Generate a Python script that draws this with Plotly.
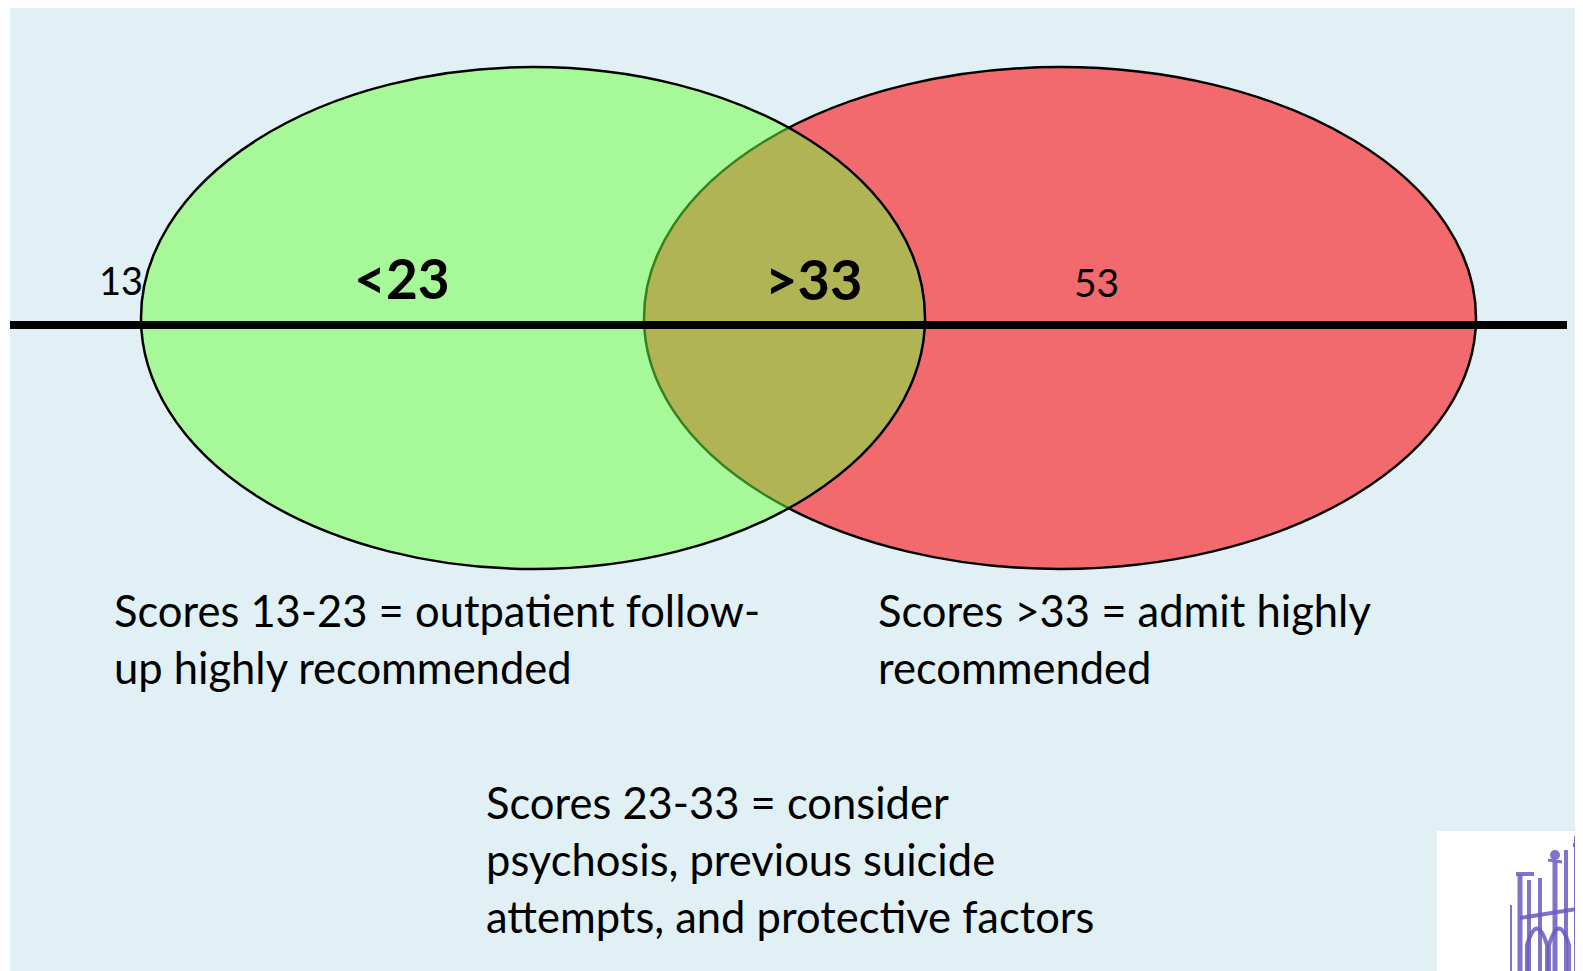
import plotly.graph_objects as go

# ---- data ----
endpoint_labels = ["13", "53"]
region_labels = ["<23", ">33"]
left_desc = ["Scores 13-23 = outpatient follow-", "up highly recommended"]
right_desc = ["Scores >33 = admit highly", "recommended"]
mid_desc = ["Scores 23-33 = consider", "psychosis, previous suicide", "attempts, and protective factors"]

# ---- layout / geometry (screen pixel space) ----
W, H = 1583, 971
OFF = 8  # page body margin
BG = "#E1F0F5"
FONT = "Lato"

green = dict(cx=533, cy=318, a=392, b=251)
red = dict(cx=1060, cy=318, a=416, b=251)
axis_y = 325

fig = go.Figure()
fig.add_trace(go.Scatter(x=[OFF, W], y=[OFF, H], mode="markers", marker=dict(opacity=0),
                         hoverinfo="skip", showlegend=False))

shapes = []
shapes.append(dict(type="rect", x0=10, x1=W, y0=4, y1=H, fillcolor=BG, line=dict(width=0), layer="below"))
shapes.append(dict(type="circle", x0=red["cx"] - red["a"], x1=red["cx"] + red["a"],
                   y0=red["cy"] - red["b"], y1=red["cy"] + red["b"],
                   fillcolor="#F2696E", line=dict(color="black", width=2.5)))
shapes.append(dict(type="circle", x0=green["cx"] - green["a"], x1=green["cx"] + green["a"],
                   y0=green["cy"] - green["b"], y1=green["cy"] + green["b"],
                   fillcolor="rgba(110,255,60,0.5)", line=dict(color="black", width=2.5)))
shapes.append(dict(type="line", x0=10, x1=1567, y0=axis_y, y1=axis_y, line=dict(color="black", width=8)))

# logo block (decorative)
shapes.append(dict(type="rect", x0=1437, x1=W, y0=831, y1=H, fillcolor="white", line=dict(width=0)))
P = "rgba(104,92,190,0.85)"
for (x0, y0, x1, y1, w) in [
    (1520, 875, 1520, 971, 5), (1529, 880, 1529, 971, 4), (1540, 878, 1540, 971, 4),
    (1555, 862, 1555, 971, 5), (1566, 850, 1566, 971, 4), (1578, 836, 1578, 971, 8),
    (1516, 874, 1534, 874, 4), (1548, 860, 1562, 862, 3), (1520, 918, 1583, 908, 4),
    (1511, 905, 1511, 971, 2), (1573, 845, 1583, 845, 4)]:
    shapes.append(dict(type="line", x0=x0, y0=y0, x1=x1, y1=y1, line=dict(color=P, width=w)))
for (x0, x1) in [(1527, 1547), (1549, 1569)]:
    shapes.append(dict(type="path", path=f"M{x0},971 L{x0},945 Q{(x0+x1)/2},912 {x1},945 L{x1},971",
                       line=dict(color=P, width=4)))
shapes.append(dict(type="circle", x0=1550, x1=1560, y0=850, y1=860, fillcolor=P, line=dict(width=0)))

ann = []
def t(x, y, s, size, bold=False):
    ann.append(dict(x=x, y=y, text=(f"<b>{s}</b>" if bold else s), showarrow=False,
                    xanchor="left", yanchor="middle",
                    font=dict(family=FONT, size=size, color="black")))

t(97, 280, endpoint_labels[0], 38)
t(1072, 282, endpoint_labels[1], 39)
t(352, 278, region_labels[0], 55, bold=True)
t(763, 278, region_labels[1], 56, bold=True)

for i, s in enumerate(left_desc):
    t(112, 610 + 57 * i, s, 43.5)
for i, s in enumerate(right_desc):
    t(876, 610 + 57 * i, s, 43.5)
for i, s in enumerate(mid_desc):
    t(484, 802 + 57 * i, s, 43.5)

fig.update_layout(
    width=W - OFF, height=H - OFF, margin=dict(l=0, r=0, t=0, b=0),
    paper_bgcolor="white", plot_bgcolor="white",
    xaxis=dict(range=[OFF, W], visible=False, fixedrange=True),
    yaxis=dict(range=[H, OFF], visible=False, fixedrange=True),
    shapes=shapes, annotations=ann, showlegend=False,
)
fig.write_html("out.html", config={"displayModeBar": False})
